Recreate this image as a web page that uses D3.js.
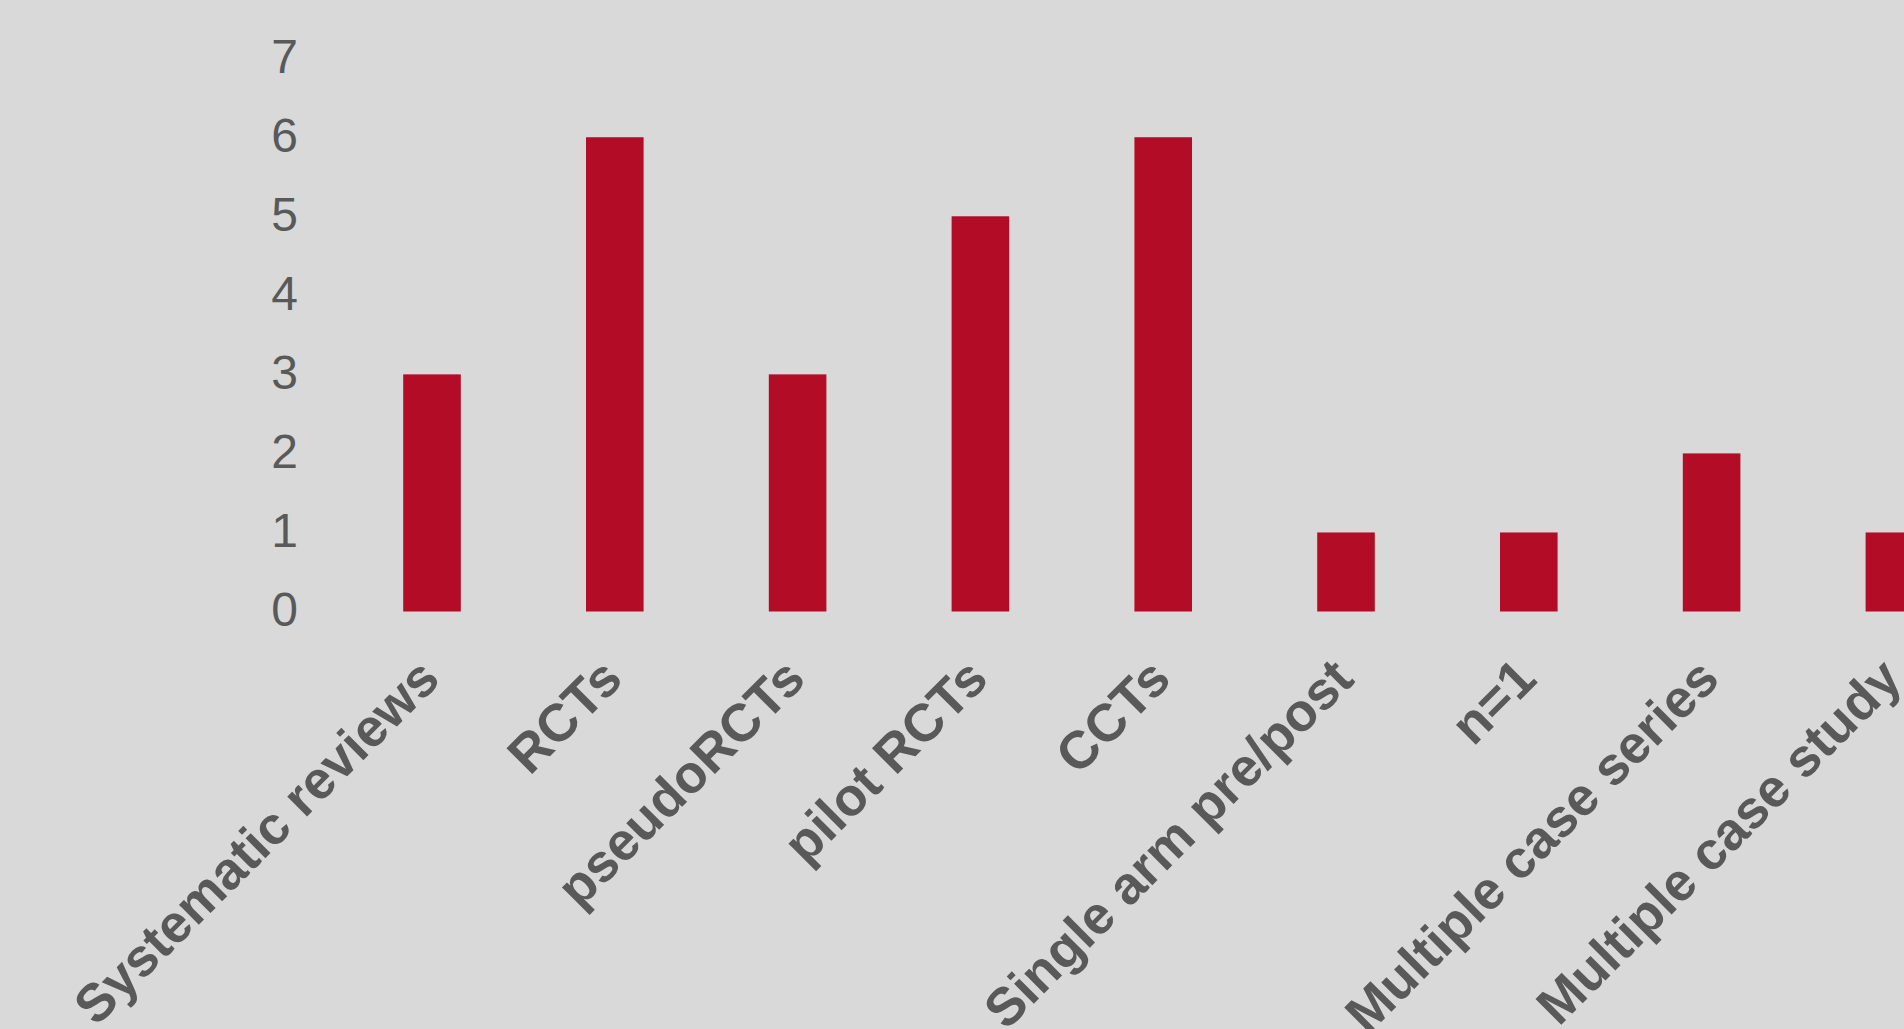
<!DOCTYPE html>
<html>
<head>
<meta charset="utf-8">
<script src="https://cdn.jsdelivr.net/npm/d3@7"></script>
<style>
  html, body { margin: 0; padding: 0; background: #D9D9D9; overflow: hidden; }
  svg { display: block; }
</style>
</head>
<body>
<script>
const categories = ["Systematic reviews", "RCTs", "pseudoRCTs", "pilot RCTs", "CCTs",
  "Single arm pre/post", "n=1", "Multiple case series", "Multiple case study"];
const values = [3, 6, 3, 5, 6, 1, 1, 2, 1];
const yTicks = [0, 1, 2, 3, 4, 5, 6, 7];

const W = 1904, H = 1029;
const svg = d3.select("body").append("svg").attr("width", W).attr("height", H);
svg.append("rect").attr("width", W).attr("height", H).attr("fill", "#D9D9D9");

const x = d3.scaleBand().domain(categories).range([340.6, 1985.8])
  .paddingInner(0.685).paddingOuter(0.3425);
const y = d3.scaleLinear().domain([0, 7]).range([611.5, 58.2]);

const font = "'Liberation Sans', Arial, sans-serif";

// Y axis labels
const yAxis = d3.axisLeft(y).tickValues(yTicks).tickSize(0).tickPadding(0).tickFormat(d3.format("d"));
const gy = svg.append("g").attr("transform", "translate(298,0)").call(yAxis);
gy.select(".domain").remove();
gy.selectAll("text").attr("font-family", font).attr("font-size", 48)
  .attr("fill", "#595959").attr("dy", "0.3em");

// Bars
svg.append("g").selectAll("rect").data(values).join("rect")
  .attr("x", (d, i) => x(categories[i]))
  .attr("width", x.bandwidth())
  .attr("y", d => y(d))
  .attr("height", d => y(0) - y(d))
  .attr("fill", "#B20C26");

// X axis labels
const xAxis = d3.axisBottom(x).tickSize(0).tickPadding(0);
const gx = svg.append("g").attr("transform", `translate(0,${y(0)})`).call(xAxis);
gx.select(".domain").remove();
gx.selectAll("text")
  .attr("font-family", font).attr("font-size", 53).attr("font-weight", "bold")
  .attr("fill", "#595959")
  .attr("text-anchor", "end")
  .attr("dy", 0).attr("y", 0)
  .attr("transform", "translate(10,70) rotate(-45)");
</script>
</body>
</html>
